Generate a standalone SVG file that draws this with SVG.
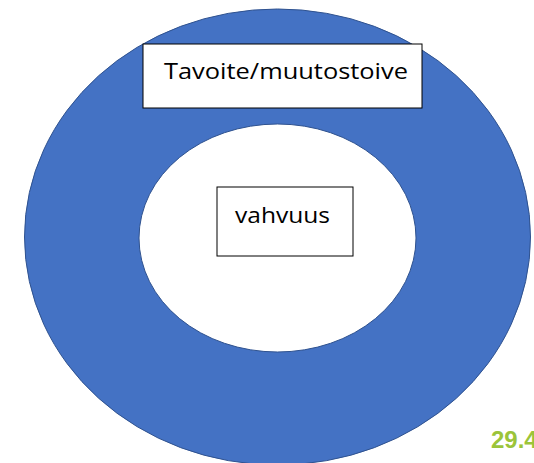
<svg xmlns="http://www.w3.org/2000/svg" width="534" height="463" viewBox="0 0 534 463">
<style>
.box{fill:#fff;stroke:#000;stroke-width:1}
.lbl{font-family:"Open Sans","Liberation Sans",sans-serif;font-size:21px;fill:#000;text-anchor:middle}
</style>
<rect width="534" height="463" fill="#fff"/>
<g id="donut">
<path d="M24.5,237 a253,228 0 1,0 506,0 a253,228 0 1,0 -506,0 Z M139,238 a138.5,114 0 1,0 277,0 a138.5,114 0 1,0 -277,0 Z" fill="#4472C4" fill-rule="evenodd" stroke="#2F528F" stroke-width="1"/>
</g>
<g id="connectors"></g>
<g id="tavoite">
<rect class="box" x="143" y="44" width="279" height="64"/>
<text class="lbl" x="286" y="79" textLength="244" lengthAdjust="spacingAndGlyphs">Tavoite/muutostoive</text>
</g>
<g id="vahvuus">
<rect class="box" x="217" y="187" width="136" height="69"/>
<text class="lbl" x="282.5" y="222.5" textLength="95" lengthAdjust="spacingAndGlyphs">vahvuus</text>
</g>
<text x="491" y="448" font-family="'Liberation Sans',Arial,sans-serif" font-weight="bold" font-size="24" fill="#9BC43A">29.4</text>
</svg>
